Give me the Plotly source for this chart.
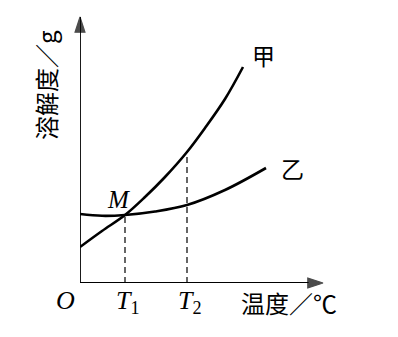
import plotly.graph_objects as go

# Data (arbitrary units)
jia_x = [0, 2.2, 4.5, 6.5, 8.5, 10.7, 12.5, 14.5, 16.3]
jia_y = [3.6, 5.2, 6.8, 8.6, 10.6, 13.1, 15.5, 18.4, 21.6]
yi_x = [0, 2.2, 4.5, 7.5, 10.7, 14.5, 18.6]
yi_y = [6.9, 6.72, 6.8, 7.15, 7.8, 9.3, 11.5]
T1, M_y = 4.5, 6.8
T2, jia_T2 = 10.7, 13.1
x_max, y_max = 24.3, 26.6

fig = go.Figure()
# axes with arrowheads
axis_marker = dict(symbol="arrow", angleref="previous", size=[0, 16], color="black", line=dict(width=1.2, color="black"))
fig.add_trace(go.Scatter(x=[0, x_max], y=[0, 0], mode="lines+markers", cliponaxis=False,
                         line=dict(color="black", width=1.8), marker=axis_marker, hoverinfo="skip"))
fig.add_trace(go.Scatter(x=[0, 0], y=[0, y_max], mode="lines+markers", cliponaxis=False,
                         line=dict(color="black", width=1.8), marker=axis_marker, hoverinfo="skip"))
fig.add_trace(go.Scatter(x=jia_x, y=jia_y, mode="lines", line=dict(color="black", width=2.6, shape="spline"), hoverinfo="skip"))
fig.add_trace(go.Scatter(x=yi_x, y=yi_y, mode="lines", line=dict(color="black", width=2.6, shape="spline"), hoverinfo="skip"))
fig.add_trace(go.Scatter(x=[T1, T1], y=[0, M_y], mode="lines", line=dict(color="black", width=1.2, dash="6px,4px"), hoverinfo="skip"))
fig.add_trace(go.Scatter(x=[T2, T2], y=[0, jia_T2], mode="lines", line=dict(color="black", width=1.2, dash="6px,4px"), hoverinfo="skip"))

serif = "Liberation Serif"
cjk = "Noto Sans CJK SC"
C = dict(xanchor="center", yanchor="middle", showarrow=False)
ann = []
ann.append(dict(x=18.3, y=22.8, xref="x", yref="y", text="甲", font=dict(family=cjk, size=23, color="black"), **C))
ann.append(dict(x=21.2, y=11.5, xref="x", yref="y", text="乙", font=dict(family=cjk, size=23, color="black"), **C))
ann.append(dict(x=3.8, y=8.4, xref="x", yref="y", text="<i>M</i>", font=dict(family=serif, size=25, color="black"), **C))
ann.append(dict(x=-0.058, y=-0.064, xref="paper", yref="paper", text="<i>O</i>", font=dict(family=serif, size=26, color="black"), **C))
ann.append(dict(x=T1 + 0.3, y=-0.07, xref="x", yref="paper", text="<i>T</i><sub>1</sub>", font=dict(family=serif, size=26, color="black"), **C))
ann.append(dict(x=T2 + 0.3, y=-0.07, xref="x", yref="paper", text="<i>T</i><sub>2</sub>", font=dict(family=serif, size=26, color="black"), **C))
ann.append(dict(x=0.86, y=-0.075, xref="paper", yref="paper", text="温度／℃", font=dict(family=cjk, size=24, color="black"), **C))
ann.append(dict(x=-0.144, y=0.744, xref="paper", yref="paper", text="溶解度／g", textangle=-90, font=dict(family=cjk, size=24, color="black"), **C))

fig.update_layout(
    width=398, height=337,
    margin=dict(l=80, r=75, t=17, b=54),
    paper_bgcolor="white", plot_bgcolor="white",
    showlegend=False,
    xaxis=dict(range=[0, x_max], visible=False),
    yaxis=dict(range=[0, y_max], visible=False),
    annotations=ann,
)
fig.write_html("out.html")
